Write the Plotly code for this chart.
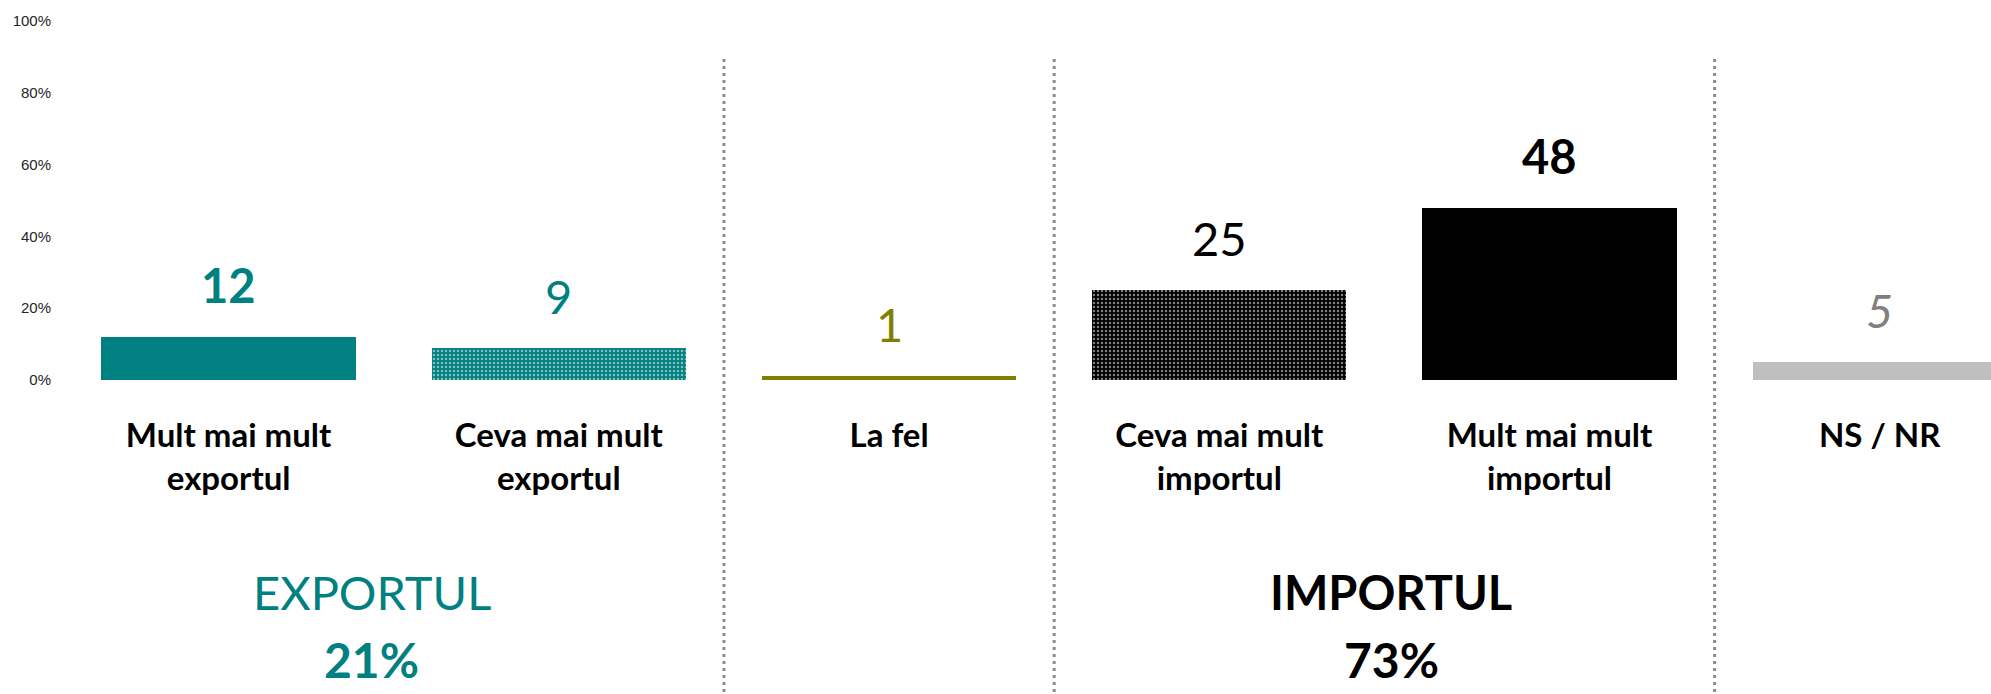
import plotly.graph_objects as go

categories = ["Mult mai mult<br>exportul", "Ceva mai mult<br>exportul", "La fel",
              "Ceva mai mult<br>importul", "Mult mai mult<br>importul", "NS / NR"]
values = [12, 9, 1, 25, 48, 5]
y_ticks = [0, 20, 40, 60, 80, 100]
group_names = ["EXPORTUL", "IMPORTUL"]
group_members = [[0, 1], [3, 4]]
divider_after = [1, 2, 4]

bar_colors = ["#008080", "#008080", "#808000", "#000000", "#000000", "#BFBFBF"]
pattern_shapes = ["", ".", "", ".", "", ""]
label_colors = ["#008080", "#008080", "#808000", "#000000", "#000000", "#808080"]
label_bold = [True, False, False, False, True, False]
label_italic = [False, False, False, False, False, True]
group_colors = ["#008080", "#000000"]
group_bold = [False, True]
group_xshift = [-22, 7]

FONT = "Lato"
x_idx = list(range(len(categories)))

fig = go.Figure()
fig.add_trace(go.Bar(
    x=x_idx, y=values, width=0.77,
    marker=dict(color=bar_colors, line=dict(width=0),
                pattern=dict(shape=pattern_shapes, fgcolor="#ffffff", size=4,
                             solidity=0.3, fillmode="overlay")),
    hoverinfo="skip", showlegend=False,
))

annotations = []
for i, v in enumerate(values):
    annotations.append(dict(
        x=i, y=v, xref="x", yref="y", text=str(v), showarrow=False,
        yanchor="middle", yshift=52,
        font=dict(family=FONT, size=47, color=label_colors[i],
                  weight="bold" if label_bold[i] else "normal",
                  style="italic" if label_italic[i] else "normal"),
    ))

for g, name in enumerate(group_names):
    members = group_members[g]
    cx = sum(members) / len(members)
    total = sum(values[m] for m in members)
    annotations.append(dict(
        x=cx, y=-0.59, xref="x", yref="paper", text=name, showarrow=False,
        yanchor="middle", xshift=group_xshift[g],
        font=dict(family=FONT, size=47, color=group_colors[g],
                  weight="bold" if group_bold[g] else "normal"),
    ))
    annotations.append(dict(
        x=cx, y=-0.778, xref="x", yref="paper", text=f"{total}%", showarrow=False,
        yanchor="middle", xshift=group_xshift[g],
        font=dict(family=FONT, size=48, color=group_colors[g], weight="bold"),
    ))

shapes = []
for d in divider_after:
    shapes.append(dict(
        type="line", xref="x", yref="paper", x0=d + 0.5, x1=d + 0.5,
        y0=0.894, y1=-0.9,
        line=dict(color="#8c8c8c", width=3, dash="3px,4px"),
    ))

fig.update_layout(
    width=1991, height=694,
    margin=dict(l=60, r=0, t=21, b=314),
    paper_bgcolor="white", plot_bgcolor="white",
    annotations=annotations, shapes=shapes,
    bargap=0,
    xaxis=dict(
        range=[-0.5106, 5.337], tickmode="array", tickvals=x_idx, ticktext=categories,
        showgrid=False, zeroline=False, showline=False, ticks="",
        tickfont=dict(family=FONT, size=33, color="#000000", weight="bold"),
        ticklabelstandoff=33,
    ),
    yaxis=dict(
        range=[0, 100], tickmode="array", tickvals=y_ticks,
        ticktext=[f"{t}%" for t in y_ticks],
        showgrid=False, zeroline=False, showline=False, ticks="",
        tickfont=dict(family="Liberation Sans, Arial", size=15, color="#262626"),
        ticklabelstandoff=8,
    ),
)

fig.write_html(
    "out.html",
    config={"displayModeBar": False},
    post_script="document.body.style.margin='0';document.body.style.overflow='hidden';",
)
